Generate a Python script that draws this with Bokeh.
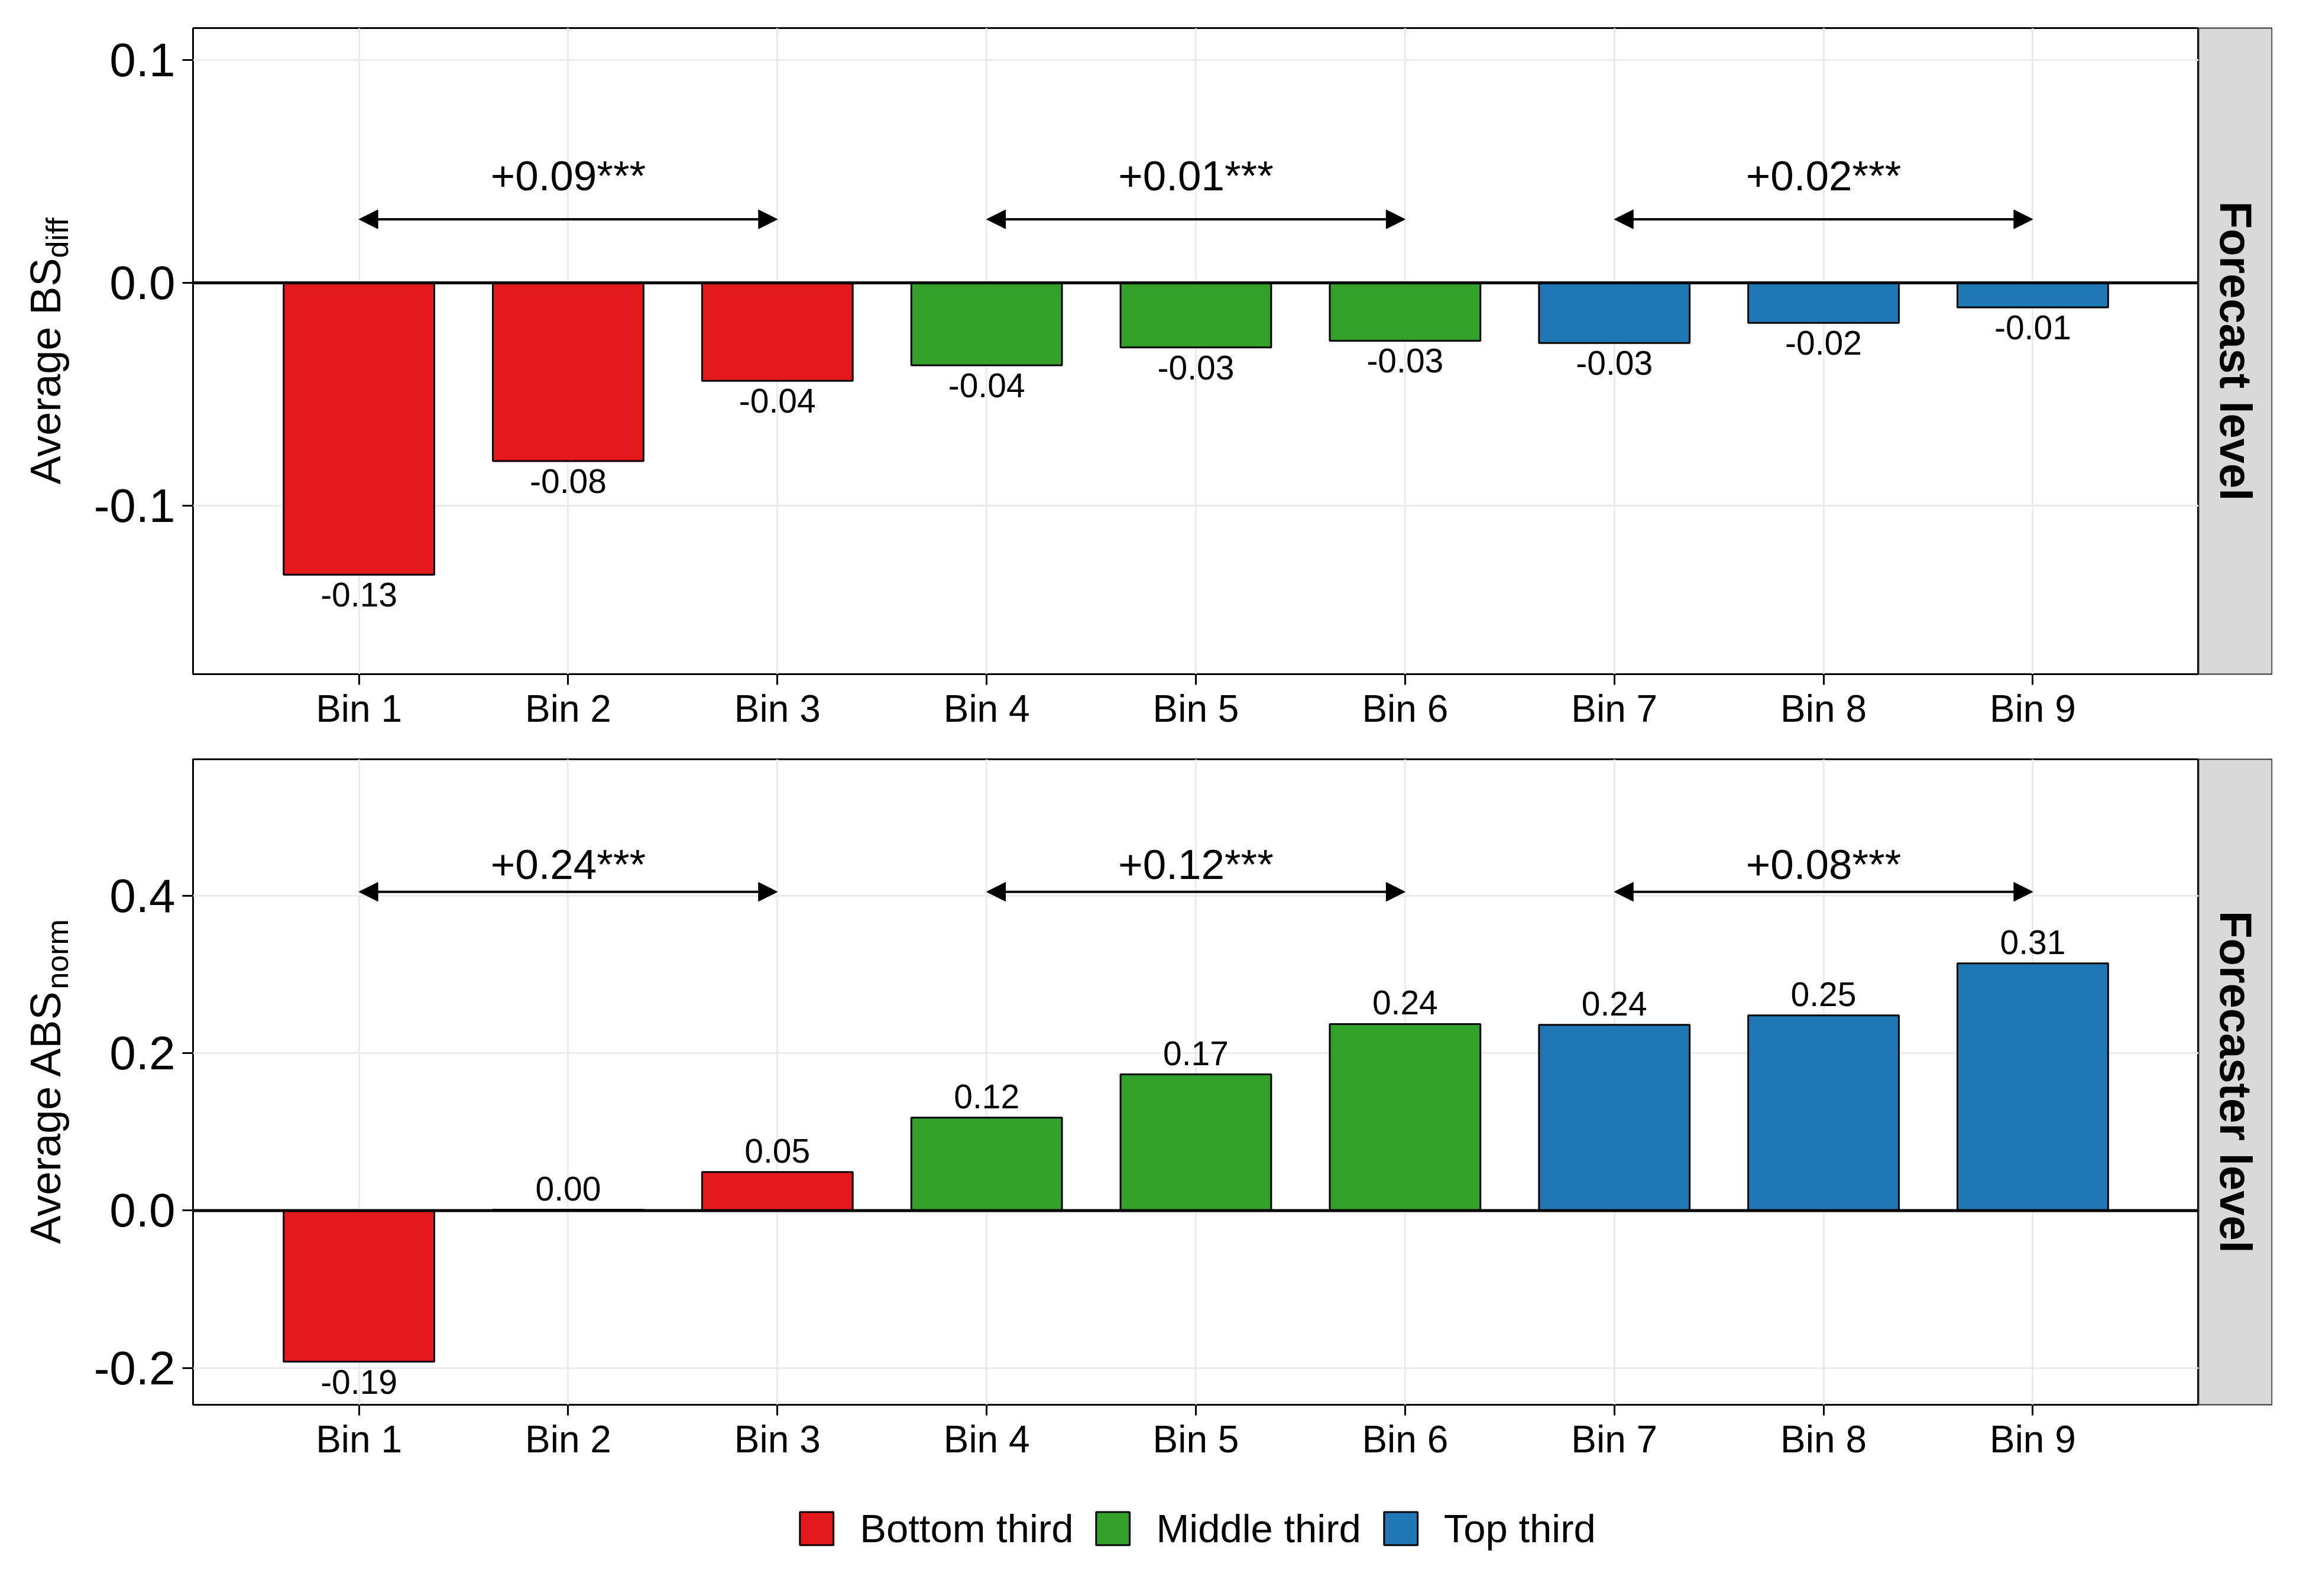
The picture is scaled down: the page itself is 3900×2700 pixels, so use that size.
import math
import numpy as np
from bokeh.plotting import figure
from bokeh.models import (ColumnDataSource, Range1d, FixedTicker, PrintfTickFormatter,
                          Span, Arrow, NormalHead, Legend, LegendItem)
from bokeh.layouts import row, column
from bokeh.embed import file_html
from bokeh.resources import INLINE
from bokeh.core.properties import value

# ---------------- data ----------------
bins = ["Bin 1", "Bin 2", "Bin 3", "Bin 4", "Bin 5", "Bin 6", "Bin 7", "Bin 8", "Bin 9"]
groups = ["Bottom third"] * 3 + ["Middle third"] * 3 + ["Top third"] * 3
group_names = ["Bottom third", "Middle third", "Top third"]
group_colors = ["#E31A1C", "#33A02C", "#1F78B4"]

bs_diff = [-0.131, -0.080, -0.044, -0.037, -0.029, -0.026, -0.027, -0.018, -0.011]
abs_norm = [-0.192, 0.001, 0.049, 0.118, 0.173, 0.237, 0.236, 0.248, 0.314]

gap_from = ["Bin 1", "Bin 4", "Bin 7"]
gap_to = ["Bin 3", "Bin 6", "Bin 9"]
bs_diff_gaps = ["+0.09***", "+0.01***", "+0.02***"]
abs_norm_gaps = ["+0.24***", "+0.12***", "+0.08***"]

y_ticks_top = [-0.1, 0.0, 0.1]
y_ticks_bottom = [-0.2, 0.0, 0.2, 0.4]

y_titles = [("Average BS", "diff"), ("Average ABS", "norm")]
strip_labels = ["Forecast level", "Forecaster level"]

FONT = value("Liberation Sans")
TITLE_W = 150
MAIN_W = 3718 - TITLE_W
STRIP_W = 125
CHAR_W = {"A": 0.667, "v": 0.5, "e": 0.556, "r": 0.333, "a": 0.556, "g": 0.556, " ": 0.278,
          "B": 0.667, "S": 0.667, "d": 0.556, "i": 0.222, "f": 0.278, "n": 0.556, "o": 0.556,
          "m": 0.833}


def make_source(values):
    xs = [bins.index(b) + 1 for b in bins]
    colors = [group_colors[group_names.index(g)] for g in groups]
    labels = ["%.2f" % v for v in values]
    offs = [-36 if v >= 0 else 34 for v in values]
    return xs, ColumnDataSource(dict(x=xs, top=values, color=colors, group=groups,
                                     label=labels, off=offs))


def make_row(values, gaps, y_ticks, yr, arrow_y, gap_y, title, strip, top_b, frame_h, bot_b):
    H = top_b + frame_h + bot_b
    xs, src = make_source(values)

    p = figure(width=MAIN_W, height=H, x_range=Range1d(0.207, 9.793), y_range=Range1d(*yr),
               output_backend="svg", toolbar_location=None,
               min_border_left=326 - TITLE_W, min_border_right=0, min_border_top=top_b,
               min_border_bottom=bot_b)
    p.background_fill_color = "white"
    p.border_fill_color = "white"
    p.outline_line_color = "black"
    p.outline_line_width = 3

    xt = FixedTicker(ticks=xs)
    yt = FixedTicker(ticks=y_ticks)
    p.xaxis.ticker = xt
    p.yaxis.ticker = yt
    p.xgrid.ticker = xt
    p.ygrid.ticker = yt
    p.xgrid.grid_line_color = "#EBEBEB"
    p.ygrid.grid_line_color = "#EBEBEB"
    p.xgrid.grid_line_width = 3
    p.ygrid.grid_line_width = 3
    p.xaxis.major_label_overrides = {x: b for x, b in zip(xs, bins)}
    p.yaxis.formatter = PrintfTickFormatter(format="%.1f")
    for ax in (p.xaxis, p.yaxis):
        ax.axis_line_color = None
        ax.minor_tick_line_color = None
        ax.major_tick_out = 18
        ax.major_tick_in = 0
        ax.major_tick_line_width = 3
        ax.major_tick_line_color = "black"
        ax.major_label_text_font = "Liberation Sans"
        ax.major_label_text_color = "black"
    p.xaxis.major_label_text_font_size = "64px"
    p.xaxis.major_label_standoff = 4
    p.yaxis.major_label_text_font_size = "80px"
    p.yaxis.major_label_standoff = 12

    p.vbar(x="x", top="top", bottom=0, width=0.72, fill_color="color",
           line_color="black", line_width=3, source=src)
    p.text(x="x", y="top", text="label", y_offset="off", source=src,
           text_align="center", text_baseline="middle", text_font=FONT,
           text_font_size="57px", text_color="black")

    p.add_layout(Span(location=0, dimension="width", line_color="black", line_width=5))

    gx0 = [bins.index(b) + 1 for b in gap_from]
    gx1 = [bins.index(b) + 1 for b in gap_to]
    asrc = ColumnDataSource(dict(x0=gx0, x1=gx1, y=[arrow_y] * len(gx0),
                                 xm=[(a + b) / 2 for a, b in zip(gx0, gx1)],
                                 ty=[gap_y] * len(gx0), t=gaps))
    p.add_layout(Arrow(x_start="x0", y_start="y", x_end="x1", y_end="y", source=asrc,
                       line_color="black", line_width=4,
                       start=NormalHead(size=32, fill_color="black", line_color="black", line_width=1),
                       end=NormalHead(size=32, fill_color="black", line_color="black", line_width=1)))
    p.text(x="xm", y="ty", text="t", source=asrc, text_align="center", text_baseline="middle",
           text_font=FONT, text_font_size="71px", text_color="black")

    # y-axis title with subscript
    t = figure(width=TITLE_W, height=H, x_range=Range1d(0, TITLE_W), y_range=Range1d(0, frame_h),
               output_backend="svg", toolbar_location=None, x_axis_location=None,
               y_axis_location=None, min_border_left=0, min_border_right=0,
               min_border_top=top_b, min_border_bottom=bot_b)
    t.outline_line_color = None
    t.grid.visible = False
    main_txt, sub_txt = title
    main_w = sum(CHAR_W.get(c, 0.556) for c in main_txt) * 72
    sub_w = sum(CHAR_W.get(c, 0.556) for c in sub_txt) * 52
    join = frame_h / 2 - (main_w + sub_w) / 2 + main_w
    t.text(x=[76], y=[join], text=[main_txt], angle=math.pi / 2, text_align="right",
           text_baseline="alphabetic", text_font=FONT, text_font_size="72px", text_color="black")
    t.text(x=[96], y=[join], text=[sub_txt], angle=math.pi / 2, text_align="left",
           text_baseline="alphabetic", text_font=FONT, text_font_size="52px", text_color="black")

    # facet strip
    s = figure(width=STRIP_W, height=H, x_range=Range1d(0, 1), y_range=Range1d(0, 1),
               output_backend="svg", toolbar_location=None, x_axis_location=None,
               y_axis_location=None, min_border_left=0, min_border_right=0,
               min_border_top=top_b, min_border_bottom=bot_b)
    s.background_fill_color = "#D9D9D9"
    s.outline_line_color = "#333333"
    s.outline_line_width = 2
    s.grid.visible = False
    s.text(x=[0.5], y=[0.5], text=[strip], angle=-math.pi / 2, text_align="center",
           text_baseline="middle", text_font=FONT, text_font_size="76px",
           text_font_style="bold", text_color="black")

    return row(t, p, s)


r1 = make_row(bs_diff, bs_diff_gaps, y_ticks_top, (-0.1756, 0.1143), 0.0285, 0.048,
              y_titles[0], strip_labels[0], 47, 1093, 120)
r2 = make_row(abs_norm, abs_norm_gaps, y_ticks_bottom, (-0.2468, 0.5734), 0.405, 0.44,
              y_titles[1], strip_labels[1], 24, 1092, 110)

# ---------------- legend strip ----------------
# one legend key per group; the key renderer holds no drawable bar (NaN heights)
lsrc = ColumnDataSource(dict(x=np.zeros(len(group_names)),
                             top=np.full(len(group_names), np.nan),
                             color=group_colors))
lf = figure(width=3718, height=214, x_range=Range1d(0, 1), y_range=Range1d(0, 1),
            output_backend="svg", toolbar_location=None, x_axis_location=None,
            y_axis_location=None, min_border_left=326, min_border_right=0,
            min_border_top=0, min_border_bottom=16)
lf.outline_line_color = None
lf.grid.visible = False
lbars = lf.vbar(x="x", top="top", bottom=0, width=0.72, fill_color="color",
                line_color="black", line_width=3, source=lsrc)
items = [LegendItem(label=g, renderers=[lbars], index=i) for i, g in enumerate(group_names)]
leg = Legend(items=items, orientation="horizontal", location="center",
             label_text_font="Liberation Sans", label_text_font_size="67px",
             label_text_color="black",
             glyph_width=71, glyph_height=70, label_height=70, label_standoff=38,
             spacing=31, padding=0, margin=0, border_line_color=None,
             background_fill_alpha=0)
lf.add_layout(leg, "center")

layout = column(r1, r2, lf)
open("out.html", "w").write(file_html(layout, INLINE))
